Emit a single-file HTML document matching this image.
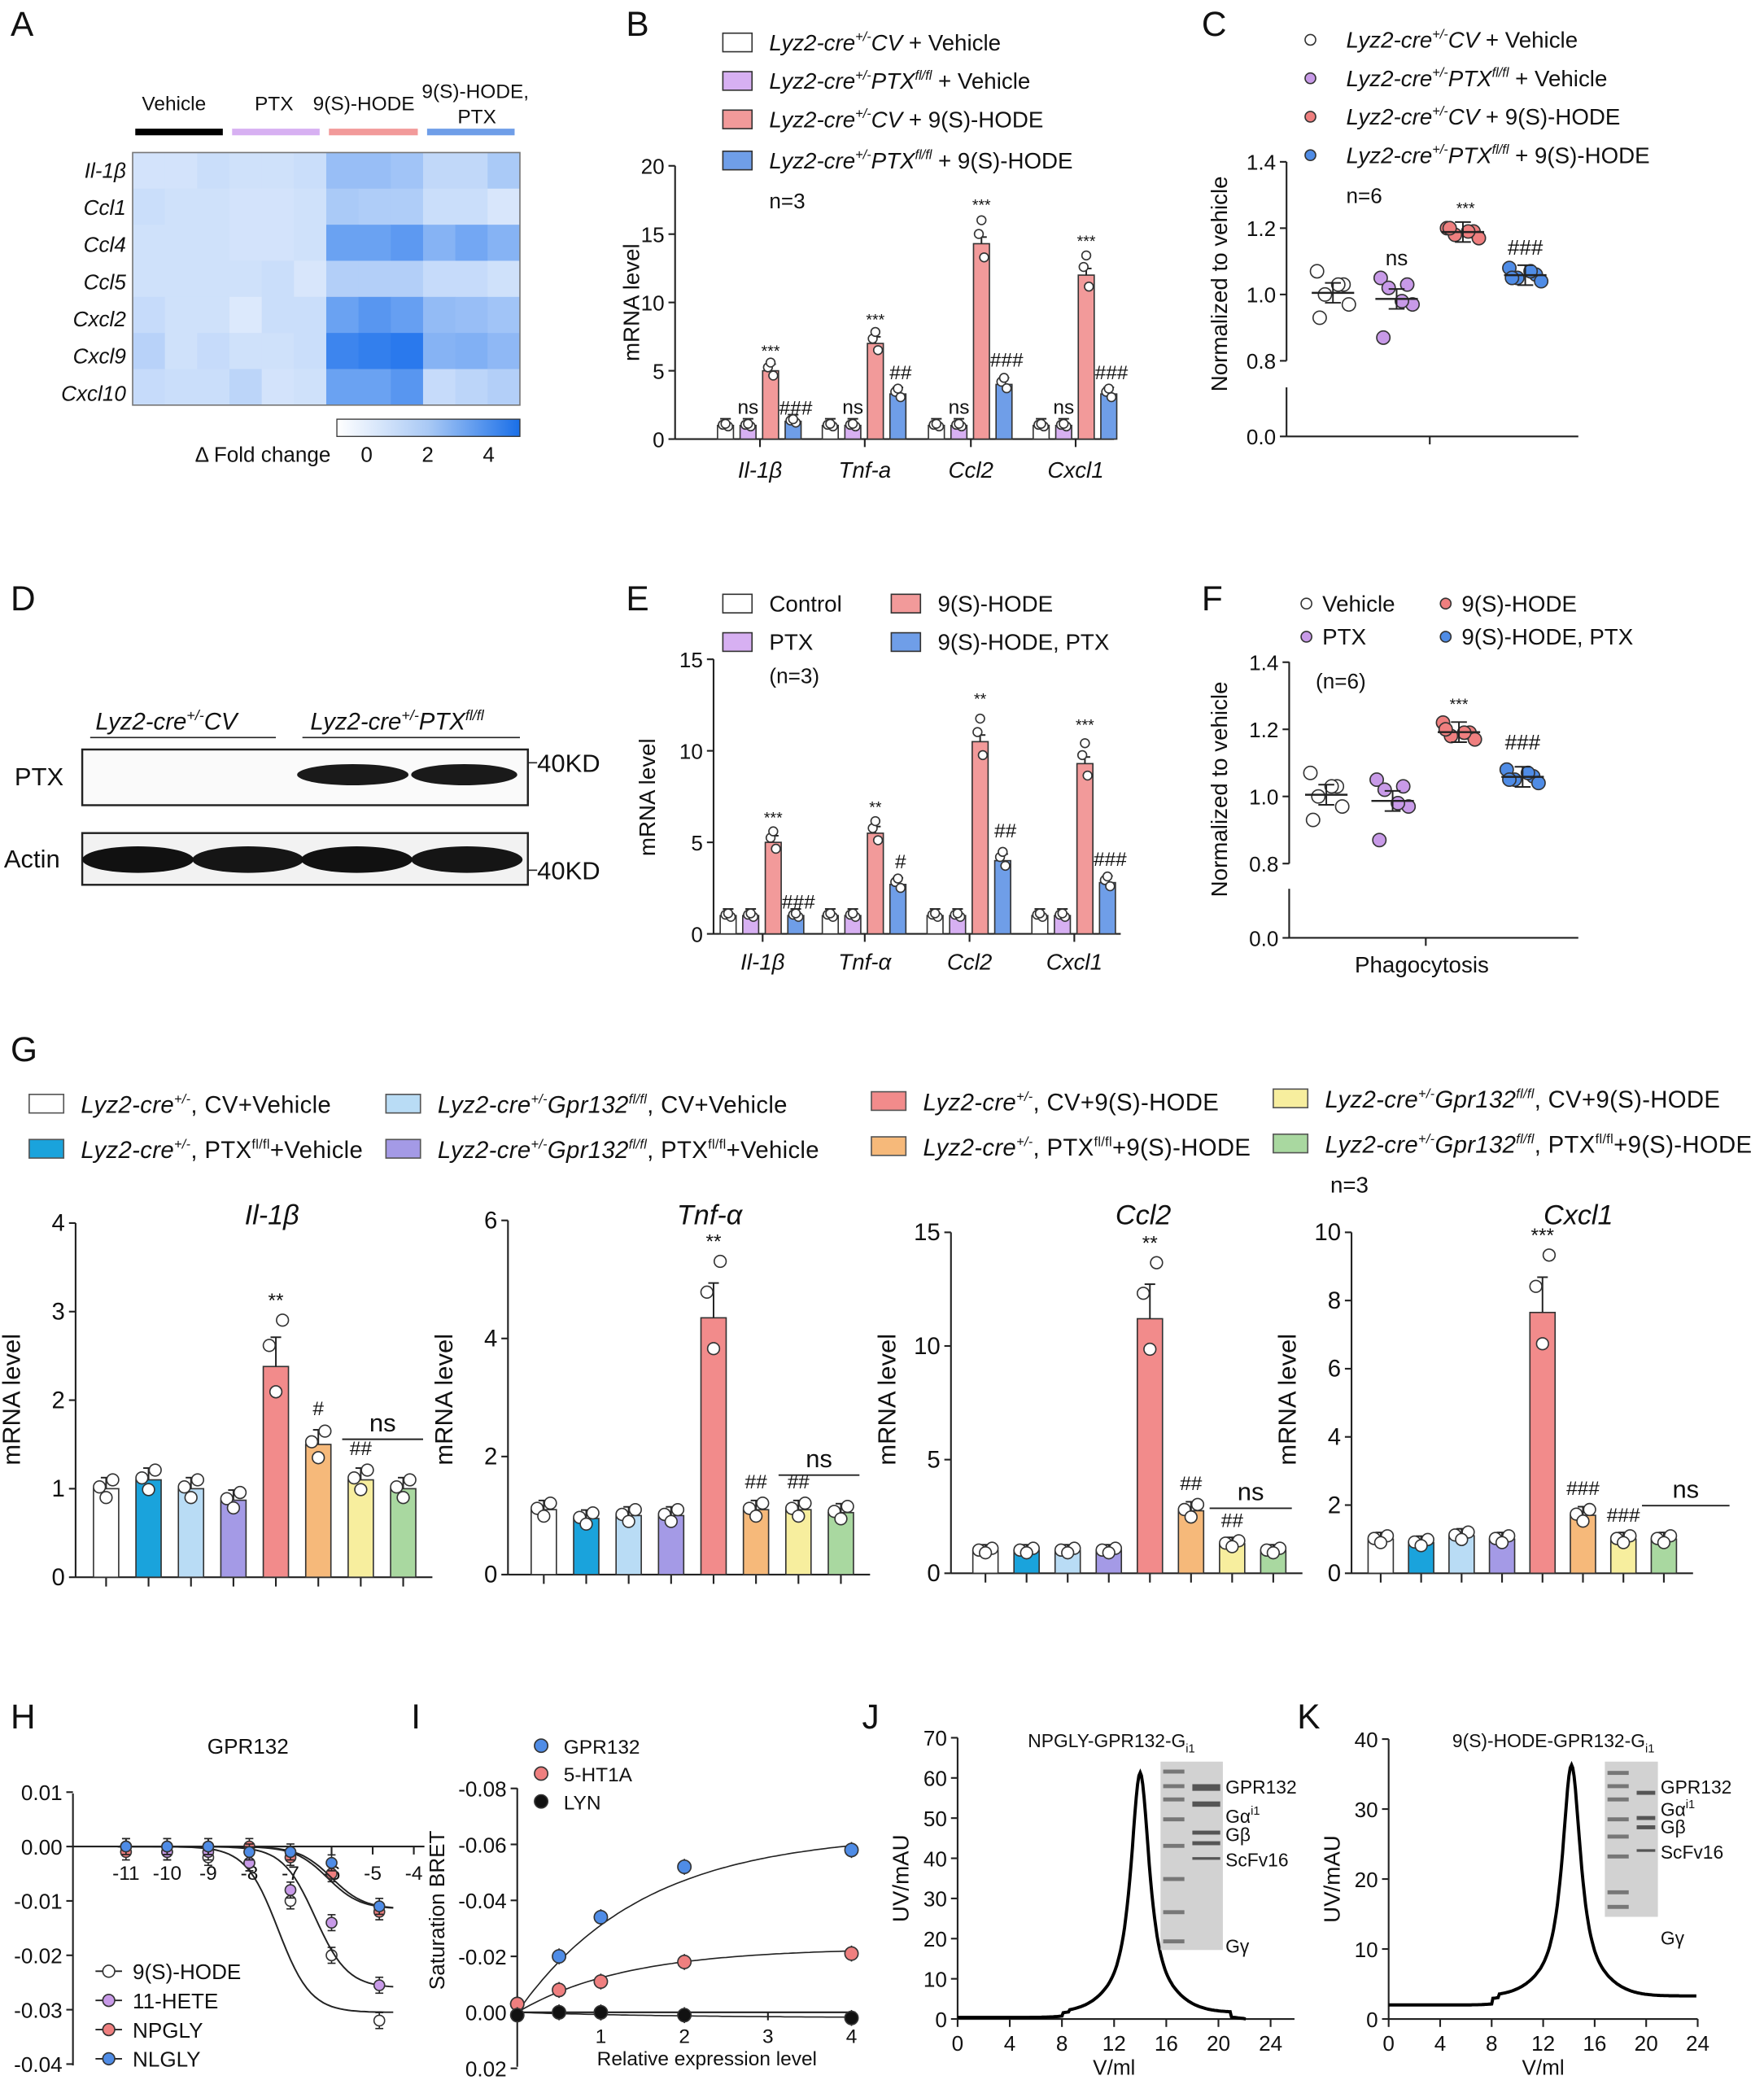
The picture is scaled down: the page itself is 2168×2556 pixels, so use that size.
<!DOCTYPE html>
<html><head><meta charset="utf-8"><style>
html,body{margin:0;padding:0;background:#fff}
svg{display:block}
text{font-family:"Liberation Sans",sans-serif;fill:#111}
</style></head><body>
<svg id="s" width="2168" height="2556" viewBox="0 0 1330 1568" preserveAspectRatio="none" xmlns="http://www.w3.org/2000/svg">
<rect width="1330" height="1568" fill="#fff"/>
<g font-size="26">
<text x="8" y="27">A</text><text x="472" y="27">B</text><text x="906" y="27">C</text>
<text x="8" y="460">D</text><text x="472" y="460">E</text><text x="906" y="460">F</text>
<text x="8" y="800">G</text><text x="8" y="1303">H</text><text x="310" y="1303">I</text>
<text x="650" y="1303">J</text><text x="978" y="1303">K</text>
</g>
<g font-size="15">
<text x="107" y="83">Vehicle</text><text x="192" y="83">PTX</text><text x="236" y="83">9(S)-HODE</text>
<text x="318" y="74">9(S)-HODE,</text><text x="345" y="93">PTX</text>
</g>
<rect x="102" y="97" width="66" height="5" fill="#000"/>
<rect x="175" y="97" width="66" height="5" fill="#d7b0f2"/>
<rect x="248" y="97" width="67" height="5" fill="#f29a9a"/>
<rect x="322" y="97" width="66" height="5" fill="#6f9ee8"/>
<g id="heat"></g>
<g font-size="16" font-style="italic" text-anchor="end">
<text x="95" y="134">Il-1β</text><text x="95" y="162">Ccl1</text><text x="95" y="190">Ccl4</text>
<text x="95" y="218">Ccl5</text><text x="95" y="246">Cxcl2</text><text x="95" y="274">Cxcl9</text><text x="95" y="302">Cxcl10</text>
</g>
<defs><linearGradient id="cb"><stop offset="0" stop-color="#fff"/><stop offset="0.5" stop-color="#a9c9f5"/><stop offset="1" stop-color="#1a6fe8"/></linearGradient></defs>
<rect x="254" y="316" width="138" height="13" fill="url(#cb)" stroke="#333" stroke-width="0.8"/>
<g font-size="16"><text x="147" y="348">Δ Fold change</text><text x="272" y="348">0</text><text x="318" y="348">2</text><text x="364" y="348">4</text></g>

<g font-size="18" font-style="italic"><text x="72" y="550">Lyz2-cre<tspan font-size="11" dy="-7">+/-</tspan><tspan dy="7">CV</tspan></text>
<text x="234" y="550">Lyz2-cre<tspan font-size="11" dy="-7">+/-</tspan><tspan dy="7">PTX</tspan><tspan font-size="11" dy="-7">fl/fl</tspan></text></g>
<line x1="68" y1="556" x2="208" y2="556" stroke="#222"/><line x1="228" y1="556" x2="392" y2="556" stroke="#222"/>
<rect x="62" y="565" width="336" height="42" fill="#fafafa" stroke="#222" stroke-width="1.5"/>
<rect x="62" y="628" width="336" height="39" fill="#f2f2f2" stroke="#222" stroke-width="1.5"/>
<ellipse cx="266" cy="584" rx="42" ry="8" fill="#1a1a1a"/><ellipse cx="350" cy="584" rx="40" ry="8" fill="#1a1a1a"/>
<ellipse cx="104" cy="648" rx="42" ry="10" fill="#111"/><ellipse cx="187" cy="648" rx="42" ry="10" fill="#151515"/>
<ellipse cx="269" cy="648" rx="42" ry="10" fill="#111"/><ellipse cx="352" cy="648" rx="42" ry="10" fill="#151515"/>
<g font-size="19"><text x="11" y="592">PTX</text><text x="3" y="654">Actin</text>
<text x="405" y="582">40KD</text><text x="405" y="663">40KD</text></g>
<line x1="398" y1="575" x2="405" y2="575" stroke="#222"/><line x1="398" y1="656" x2="405" y2="656" stroke="#222"/>
<g id="dyn"></g>
</svg>
<script>
var NS="http://www.w3.org/2000/svg",S=document.getElementById("dyn");
function el(t,a,p,txt){var e=document.createElementNS(NS,t);for(var k in a)e.setAttribute(k,a[k]);if(txt!==undefined)e.textContent=txt;(p||S).appendChild(e);return e}
function L(x1,y1,x2,y2,w,c){el("line",{x1:x1,y1:y1,x2:x2,y2:y2,stroke:c||"#222","stroke-width":w||1.3})}
function T(x,y,s,fs,anc,extra){var a={x:x,y:y,"font-size":fs||16};if(anc)a["text-anchor"]=anc;for(var k in extra)a[k]=extra[k];return el("text",a,null,s)}
function html(x,y,h,fs,extra){var a={x:x,y:y,"font-size":fs||17};for(var k in extra)a[k]=extra[k];var e=el("text",a);e.innerHTML=h;return e}
var H=document.getElementById("heat");
var vals=[[.3,.3,.5,.4,.4,.5,1.6,1.6,1.4,.7,.7,1.2],[.5,.4,.4,.3,.3,.4,1.2,1.1,1.1,.5,.5,.2],[.4,.4,.4,.3,.3,.4,2.6,2.6,2.9,2,2.4,2],
[.4,.4,.4,.4,.5,.2,1,1,1,.6,.6,.4],[.6,.4,.4,.1,.5,.5,2.6,3,2.7,1.7,1.6,1.4],[.9,.4,.6,.4,.4,.5,3.6,3.8,4,2,2.1,1.8],[.6,.5,.5,.8,.3,.4,2.6,2.6,3,.6,.8,1]];
function hc(v){var t=Math.min(v/4.4,1);var r=Math.round(225-t*(225-24)),g=Math.round(236-t*(236-110)),b=Math.round(252-t*(252-235));return"rgb("+r+","+g+","+b+")"}
var RH=27.2;
for(var i=0;i<7;i++)for(var j=0;j<12;j++)el("rect",{x:100+j*24.33,y:115+i*RH,width:24.6,height:RH+0.3,fill:hc(vals[i][j])},H);
el("rect",{x:100,y:115,width:292,height:RH*7,fill:"none",stroke:"#777","stroke-width":1},H);
function yaxis(x,y0,y1,ticks,map,fs,tl){L(x,y0,x,y1);ticks.forEach(function(t){var y=map(t);L(x-5,y,x,y);T(x-8,y+6,tl?tl(t):String(t),fs||16,"end")})}
function circ(cx,cy,r,f){el("circle",{cx:cx,cy:cy,r:r||4,fill:f||"#fff",stroke:"#333","stroke-width":1})}
function bar(x,w,ytop,y0,f){el("rect",{x:x-w/2,y:ytop,width:w,height:y0-ytop,fill:f,stroke:"#333","stroke-width":1})}
function err(x,y,e){L(x,y,x,y-e,1.2);L(x-4,y-e,x+4,y-e,1.2)}
var lz='<tspan font-style="italic">Lyz2-cre</tspan><tspan font-size="10" dy="-7" font-style="italic">+/-</tspan><tspan dy="7" font-style="italic">';
[["#fff",'CV</tspan> + Vehicle'],["#d7b0f2",'PTX<tspan font-size="10" dy="-7">fl/fl</tspan></tspan><tspan dy="7"> + Vehicle</tspan>'],["#f29a9a",'CV</tspan> + 9(S)-HODE'],["#6f9ee8",'PTX<tspan font-size="10" dy="-7">fl/fl</tspan></tspan><tspan dy="7"> + 9(S)-HODE</tspan>']].forEach(function(l,i){
 var y=[32,61,90,121][i];el("rect",{x:545,y:y-7,width:22,height:14,fill:l[0],stroke:"#333"});html(580,y+6,lz+l[1],17)});
T(580,157,"n=3",16);
var bY=function(v){return 331-v*10.3};
yaxis(509,125,331,[0,5,10,15,20],bY);L(509,331,840,331);
T(482,228,"mRNA level",17,"middle",{transform:"rotate(-90 482 228)"});
var gx=[573,652,732,811],cols=["#fff","#d7b0f2","#f29a9a","#6f9ee8"],off=[-26,-9,8,25];
var bv=[[1,1,5,1.3],[1,1,7,3.3],[1,1,14.3,4],[1,1,12,3.3]],labB=["Il-1β","Tnf-a","Ccl2","Cxcl1"];
var bs=[["ns","***","###"],["ns","***","##"],["ns","***","###"],["ns","***","###"]];
gx.forEach(function(g,i){L(g,331,g,337);T(g,360,labB[i],17,"middle",{"font-style":"italic"});
 for(var k=0;k<4;k++){var x=g+off[k],v=bv[i][k];bar(x,12,bY(v),331,cols[k]);err(x,bY(v),5);circ(x-2,bY(v*1.05),3.3);circ(x+2,bY(v*0.93),3.3);circ(x,bY(v*1.12),3.3)}
 T(g+off[1],312,"ns",15,"middle");T(g+off[2],bY(bv[i][2]*1.15)-3,"***",12,"middle");T(g+off[3]+2,bY(bv[i][3]*1.3)-1,bs[i][2],15,"middle")});
[["#fff",'CV</tspan> + Vehicle'],["#c89ae8",'PTX<tspan font-size="10" dy="-7">fl/fl</tspan></tspan><tspan dy="7"> + Vehicle</tspan>'],["#ef7f7f",'CV</tspan> + 9(S)-HODE'],["#4f8ce6",'PTX<tspan font-size="10" dy="-7">fl/fl</tspan></tspan><tspan dy="7"> + 9(S)-HODE</tspan>']].forEach(function(l,i){
 var y=[30,59,88,117][i];circ(988,y,4,l[0]);html(1015,y+6,lz+l[1],17)});
T(1015,153,"n=6",16);
var cY=function(v){return 272-(v-0.8)*250};
L(970,122,970,272);[1.4,1.2,1.0,0.8].forEach(function(t){var y=cY(t);L(965,y,970,y);T(962,y+6,t.toFixed(1),16,"end")});
L(970,292,970,329);L(965,329,970,329);T(962,335,"0.0",16,"end");L(970,329,1190,329);L(1078,329,1078,335);
T(925,214,"Normalized to vehicle",17,"middle",{transform:"rotate(-90 925 214)"});
function dots(cx,ys,f,Y){ys.forEach(function(v,i){circ(cx+[-12,8,-6,12,-10,4][i],Y(v),5,f)});var m=ys.reduce(function(a,b){return a+b})/ys.length;L(cx-16,Y(m),cx+16,Y(m),1.5);L(cx,Y(m-0.03),cx,Y(m+0.03),1.2);L(cx-6,Y(m+0.03),cx+6,Y(m+0.03),1.2);L(cx-6,Y(m-0.03),cx+6,Y(m-0.03),1.2)}
dots(1005,[1.07,1.03,1.0,0.97,0.93,1.03],"#fff",cY);dots(1053,[1.05,1.03,1.02,0.97,0.87,0.98],"#c89ae8",cY);
dots(1103,[1.2,1.19,1.18,1.17,1.2,1.19],"#ef7f7f",cY);dots(1150,[1.08,1.06,1.05,1.04,1.05,1.07],"#4f8ce6",cY);
T(1053,200,"ns",16,"middle");T(1105,161,"***",12,"middle");T(1150,192,"###",16,"middle");
[[545,455,"#fff","Control"],[545,484,"#d7b0f2","PTX"],[672,455,"#f29a9a","9(S)-HODE"],[672,484,"#6f9ee8","9(S)-HODE, PTX"]].forEach(function(l){el("rect",{x:l[0],y:l[1]-7,width:22,height:14,fill:l[2],stroke:"#333"});T(l[0]+35,l[1]+6,l[3],17)});
T(580,515,"(n=3)",16);
var eY=function(v){return 704-v*13.8};yaxis(538,497,704,[0,5,10,15],eY);L(538,704,845,704);
T(494,601,"mRNA level",17,"middle",{transform:"rotate(-90 494 601)"});
var ex=[575,652,731,810],ev=[[1,1,5,1],[1,1,5.5,2.7],[1,1,10.5,4],[1,1,9.3,2.8]],es=[["***","###"],["**","#"],["**","##"],["***","###"]],le=["Il-1β","Tnf-α","Ccl2","Cxcl1"];
ex.forEach(function(g,i){L(g,704,g,710);T(g,731,le[i],17,"middle",{"font-style":"italic"});
 for(var k=0;k<4;k++){var x=g+off[k],v=ev[i][k];bar(x,12,eY(v),704,cols[k]);err(x,eY(v),5);circ(x-2,eY(v*1.05),3.3);circ(x+2,eY(v*0.93),3.3);circ(x,eY(v*1.12),3.3)}
 T(g+off[2],eY(ev[i][2]*1.18)-2,es[i][0],12,"middle");T(g+off[3]+2,eY(ev[i][3]*1.3)-1,es[i][1],15,"middle")});
[[985,460,"#fff","Vehicle"],[985,485,"#c89ae8","PTX"],[1090,460,"#ef7f7f","9(S)-HODE"],[1090,485,"#4f8ce6","9(S)-HODE, PTX"]].forEach(function(l){circ(l[0],l[1]-5,4,l[2]);T(l[0]+12,l[1]+1,l[3],17)});
T(992,519,"(n=6)",16);
var fY=function(v){return 651-(v-0.8)*253};
L(972,499,972,651);[1.4,1.2,1.0,0.8].forEach(function(t){var y=fY(t);L(967,y,972,y);T(964,y+6,t.toFixed(1),16,"end")});
L(972,670,972,707);L(967,707,972,707);T(964,713,"0.0",16,"end");L(972,707,1190,707);L(1075,707,1075,713);
T(925,595,"Normalized to vehicle",17,"middle",{transform:"rotate(-90 925 595)"});T(1072,733,"Phagocytosis",17,"middle");
dots(1000,[1.07,1.03,1.0,0.97,0.93,1.03],"#fff",fY);dots(1050,[1.05,1.03,1.02,0.97,0.87,0.98],"#c89ae8",fY);
dots(1100,[1.22,1.19,1.18,1.17,1.2,1.19],"#ef7f7f",fY);dots(1148,[1.08,1.06,1.05,1.04,1.05,1.07],"#4f8ce6",fY);
T(1100,535,"***",12,"middle");T(1148,565,"###",16,"middle");
var gc=["#fff","#1aa3dc","#b9dcf5","#a49ae6","#f28b8b","#f6b97a","#f7ee9e","#a9d8a0"];
var lz2='<tspan font-style="italic">Lyz2-cre</tspan><tspan font-size="10" dy="-7" font-style="italic">+/-</tspan><tspan dy="7">';
var lzg='<tspan font-style="italic">Lyz2-cre</tspan><tspan font-size="10" dy="-7" font-style="italic">+/-</tspan><tspan dy="7" font-style="italic">Gpr132</tspan><tspan font-size="10" dy="-7" font-style="italic">fl/fl</tspan><tspan dy="7">';
var fl='PTX<tspan font-size="10" dy="-7">fl/fl</tspan><tspan dy="7">';
var GL=[[22,832,0,lz2+', CV+Vehicle</tspan>'],[22,866,1,lz2+', '+fl+'+Vehicle</tspan></tspan>'],[291,832,2,lzg+', CV+Vehicle</tspan>'],[291,866,3,lzg+', '+fl+'+Vehicle</tspan></tspan>'],
[657,830,4,lz2+', CV+9(S)-HODE</tspan>'],[657,864,5,lz2+', '+fl+'+9(S)-HODE</tspan></tspan>'],[960,828,6,lzg+', CV+9(S)-HODE</tspan>'],[960,862,7,lzg+', '+fl+'+9(S)-HODE</tspan></tspan>']];
GL.forEach(function(l){el("rect",{x:l[0],y:l[1]-7,width:26,height:14,fill:gc[l[2]],stroke:"#555"});html(l[0]+39,l[1]+7,l[3],18,{"letter-spacing":"0.2"})});
T(1003,899,"n=3",17);
var G=[{ax:57,top:922,zero:1189,max:4,st:1,x0:80,sp:32,v:[1,1.1,1,.87,2.38,1.5,1.1,1],t:"Il-1β",tx:205,sig:[[4,"**"],[5,"#"],[6,"##"]],ns:[272,305,1085]},
{ax:383,top:920,zero:1187,max:6,st:2,x0:410,sp:32,v:[1.1,.95,1,1,4.35,1.1,1.1,1.05],t:"Tnf-α",tx:535,sig:[[4,"**"],[5,"##"],[6,"##"]],ns:[601,634,1112]},
{ax:717,top:929,zero:1186,max:15,st:5,x0:743,sp:31,v:[1,1,1,1,11.2,2.75,1.3,1],t:"Ccl2",tx:862,sig:[[4,"**"],[5,"##"],[6,"##"]],ns:[926,960,1137]},
{ax:1019,top:929,zero:1186,max:10,st:2,x0:1041,sp:30.5,v:[1,.9,1.1,1,7.65,1.7,1.0,1.0],t:"Cxcl1",tx:1190,sig:[[4,"***"],[5,"###"],[6,"###"]],ns:[1252,1290,1135]}];
G.forEach(function(g){var Y=function(v){return g.zero-v*(g.zero-g.top)/g.max};var t=[];for(var v=0;v<=g.max;v+=g.st)t.push(v);
 yaxis(g.ax,g.top,g.zero,t,Y,18);var xe=g.x0+7*g.sp+22;L(g.ax,g.zero,xe,g.zero);
 T(g.ax-42,1055,"mRNA level",19,"middle",{transform:"rotate(-90 "+(g.ax-42)+" 1055)"});T(g.tx,923,g.t,21,"middle",{"font-style":"italic"});
 for(var k=0;k<8;k++){var x=g.x0+k*g.sp,v=g.v[k];L(x,g.zero,x,g.zero+7);bar(x,19,Y(v),g.zero,gc[k]);var e=(k==4?0.12:0.08)*v*(g.zero-g.top)/g.max+3;err(x,Y(v),e);
  var dv=k==4?[1.22,0.88,1.1]:[1.1,0.9,1.02];circ(x-5,Y(v*dv[2]),4.5);circ(x+5,Y(v*dv[0]),4.5);circ(x,Y(v*dv[1]),4.5)}
 g.sig.forEach(function(s){var x=g.x0+s[0]*g.sp,v=g.v[s[0]];T(x,Y(v*(s[0]==4?1.22:1.12))-10,s[1],15,"middle")});
 L(g.ns[0]-14,g.ns[2],g.ns[1]+14,g.ns[2],1.2);T((g.ns[0]+g.ns[1])/2,g.ns[2]-6,"ns",19,"middle")});
T(187,1322,"GPR132",16,"middle");
var hY=function(v){return 1392-v*4100},hX=function(l){return 95+(l+11)*31};
L(55,1352,55,1557);[0.01,0,-0.01,-0.02,-0.03,-0.04].forEach(function(t){var y=hY(t);L(50,y,55,y);T(47,y+6,t==0?"0.00":t.toFixed(2),16,"end")});
L(55,1392,320,1392);for(var l=-11;l<=-4;l++){var x=hX(l);L(x,1392,x,1398);T(x,1417,String(l),15,"middle")}
var HC=[["#fff",-0.0305,-7.3,[0,-.001,-.002,-.003,-.01,-.02,-.0275,-.032]],["#c89ae8",-0.026,-6.4,[0,-.001,-.001,-.003,-.008,-.014,-.019,-.0255]],["#ef7f7f",-0.0115,-6.1,[-.001,0,0,0,-.002,-.005,-.01,-.012]],["#4f8ce6",-0.0115,-6.0,[0,0,0,-.001,-.001,-.003,-.01,-.011]]];
HC.forEach(function(c){var d="";for(var l=-11.2;l<=-4.5;l+=0.1){var v=c[1]/(1+Math.pow(10,(c[2]-l)*1.1));d+=(d?"L":"M")+hX(l).toFixed(1)+","+hY(v).toFixed(1)}el("path",{d:d,fill:"none",stroke:"#222","stroke-width":1.2});
 [-11,-10,-9,-8,-7,-6,-5].forEach(function(l,i){var x=hX(l)+(i==6?5:0),y=hY(c[3][i==6?7:i]);L(x,y-6,x,y+6,1);L(x-3,y-6,x+3,y-6,1);L(x-3,y+6,x+3,y+6,1);circ(x,y,4,c[0])})});
[["#fff","9(S)-HODE"],["#c89ae8","11-HETE"],["#ef7f7f","NPGLY"],["#4f8ce6","NLGLY"]].forEach(function(l,i){var y=1486+i*22;L(72,y,92,y,1.2);circ(82,y,4.5,l[0]);T(100,y+6,l[1],16)});
var iY=function(v){return 1517+v*2110},iX=function(x){return 390+x*63};
L(390,1348,390,1558);[-0.08,-0.06,-0.04,-0.02,0,0.02].forEach(function(t){var y=iY(t);L(385,y,390,y);T(382,y+6,t==0?"0.00":t.toFixed(2),16,"end")});
L(390,1517,645,1517);for(var i=0;i<=4;i++){L(iX(i),1517,iX(i),1523);if(i>0)T(iX(i),1540,String(i),15,"middle")}
T(533,1557,"Relative expression level",15,"middle");T(335,1440,"Saturation BRET",16,"middle",{transform:"rotate(-90 335 1440)"});
[["#4f8ce6",-0.064,1.5,[[0,-.003],[0.5,-.02],[1,-.034],[2,-.052],[4,-.058]]],["#ef7f7f",-0.023,1.3,[[0,-.003],[0.5,-.008],[1,-.011],[2,-.018],[4,-.021]]],["#111",0.002,2,[[0,.001],[0.5,0],[1,0],[2,.001],[4,.002]]]].forEach(function(c){
 var d="";for(var x=0;x<=4.02;x+=0.05){d+=(d?"L":"M")+iX(x).toFixed(1)+","+iY(c[1]*(1-Math.exp(-x/c[2]))).toFixed(1)}el("path",{d:d,fill:"none",stroke:"#222","stroke-width":1});
 c[3].forEach(function(p){var x=iX(p[0]),y=iY(p[1]);L(x,y-6,x,y+6,1);circ(x,y,5,c[0])})});
[["#4f8ce6","GPR132"],["#ef7f7f","5-HT1A"],["#111","LYN"]].forEach(function(l,i){var y=1316+i*21;circ(408,y,5,l[0]);T(425,y+6,l[1],15)});
function sec(ax,zy,topy,max,st,x24,peak,pv,base,title,tx,gel,lab){var Y=function(v){return zy-v*(zy-topy)/max},X=function(v){return ax+v*(x24-ax)/24};
 var t=[];for(var v=0;v<=max;v+=st)t.push(v);yaxis(ax,topy,zy,t,Y,16);L(ax,zy,x24+(max==70?18:0),zy);
 for(var v=0;v<=24;v+=4){L(X(v),zy,X(v),zy+6);T(X(v),zy+24,String(v),16,"middle")}T(X(12),zy+42,"V/ml",16,"middle");
 T(ax-37,(topy+zy)/2,"UV/mAU",17,"middle",{transform:"rotate(-90 "+(ax-37)+" "+(topy+zy)/2+")"});
 html(tx,1317,title,14);
 var d="";for(var x=0;x<=(max==70?22.2:24);x+=0.1){var v=base+(x>8?0.8:0)+(x>8.5?0.5:0)+(pv-base)/(1+Math.pow((x-peak)/1.05,2)*1.4)*Math.exp(-Math.pow(Math.max(0,Math.abs(x-peak)-2.5)/3,2));if(max==70&&x>21)v=base*(22.2-x);d+=(d?"L":"M")+X(x).toFixed(1)+","+Y(v).toFixed(1)}
 el("path",{d:d,fill:"none",stroke:"#000","stroke-width":2.4});
 var g=gel;el("rect",{x:g[0],y:g[1],width:g[2],height:g[3],fill:"#d2d2d2"});
 g[4].forEach(function(b){el("rect",{x:g[0]+2,y:b,width:16,height:3,fill:"#777"})});g[5].forEach(function(b){el("rect",{x:g[0]+24,y:b[0],width:g[2]-26,height:b[1],fill:"#555"})});
 lab.forEach(function(l){html(g[0]+g[2]+2,l[1],l[0],14)})}
sec(722,1522,1310,70,10,958,14,60,0.4,'NPGLY-GPR132-G<tspan font-size="9" dy="4">i1</tspan>',775,[875,1328,47,142,[1334,1345,1355,1370,1390,1415,1440,1462],[[1345,5],[1358,4],[1380,3],[1388,3],[1400,2]]],
 [["GPR132",1352],['Gα<tspan font-size="9" dy="-6">i1</tspan>',1374],["Gβ",1388],["ScFv16",1407],["Gγ",1472]]);
sec(1047,1522,1311,40,10,1280,14.2,35,2,'9(S)-HODE-GPR132-G<tspan font-size="9" dy="4">i1</tspan>',1095,[1210,1328,40,117,[1335,1345,1355,1370,1383,1398,1425,1436],[[1350,3],[1369,3],[1376,3],[1394,2]]],
 [["GPR132",1352],['Gα<tspan font-size="9" dy="-6">i1</tspan>',1369],["Gβ",1382],["ScFv16",1401],["Gγ",1466]]);
</script>
</body></html>
